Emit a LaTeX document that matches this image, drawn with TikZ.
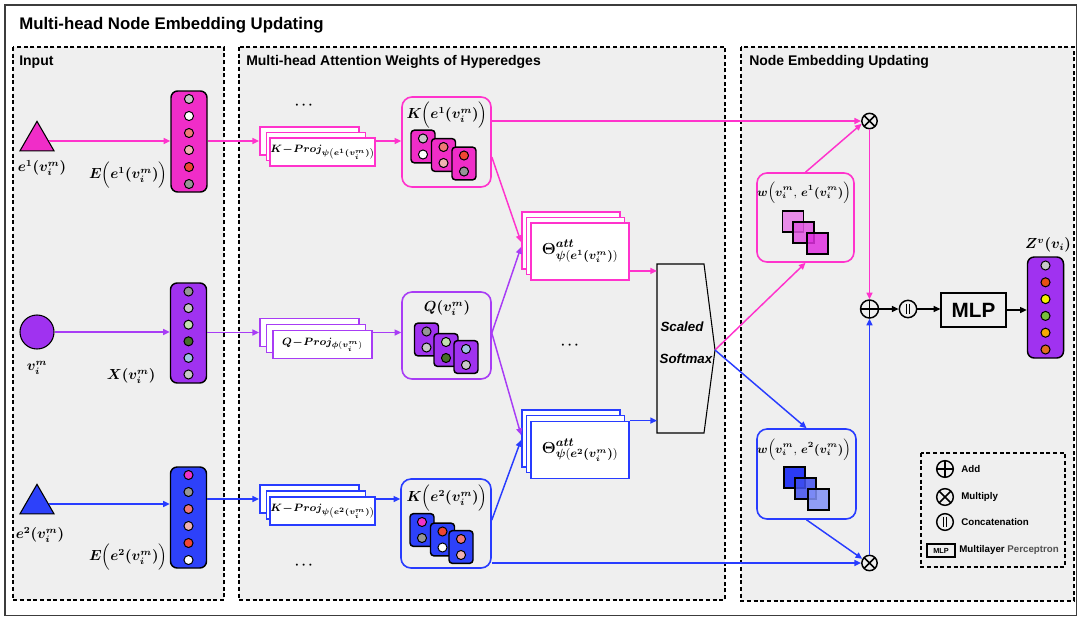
\documentclass[tikz,border=0pt]{standalone}
\usepackage{amsmath}
\usepackage{bm}
\usepackage{fontspec}
\setsansfont{Liberation Sans}
\usetikzlibrary{arrows.meta,shapes.geometric,calc}
\definecolor{pk}{RGB}{255,51,204}
\definecolor{pkf}{RGB}{240,45,200}
\definecolor{pu}{RGB}{168,60,245}
\definecolor{puf}{RGB}{160,50,240}
\definecolor{bl}{RGB}{40,60,255}
\definecolor{blf}{RGB}{45,65,250}
\definecolor{panelc}{RGB}{239,239,239}
\definecolor{frm}{RGB}{60,60,60}
\definecolor{dlg}{RGB}{200,200,200}
\definecolor{dgr}{RGB}{150,150,150}
\definecolor{dsal}{RGB}{240,120,120}
\definecolor{dlp}{RGB}{240,178,178}
\definecolor{dred}{RGB}{240,70,50}
\definecolor{dlgn}{RGB}{195,225,175}
\definecolor{ddgn}{RGB}{70,110,40}
\definecolor{dlbl}{RGB}{160,195,230}
\definecolor{dmag}{RGB}{240,50,200}
\definecolor{dor1}{RGB}{230,80,20}
\definecolor{dyel}{RGB}{245,240,0}
\definecolor{dgrn}{RGB}{120,190,60}
\definecolor{dor2}{RGB}{245,170,0}
\definecolor{dor3}{RGB}{225,110,30}
\definecolor{sqp1}{RGB}{232,140,232}
\definecolor{sqp2}{RGB}{224,85,224}
\definecolor{sqp3}{RGB}{224,48,224}
\definecolor{sqb1}{RGB}{43,59,245}
\definecolor{sqb2}{RGB}{64,80,240}
\definecolor{sqb3}{RGB}{128,144,248}
\definecolor{perc}{RGB}{80,80,80}

\tikzset{
  frame/.style={draw=frm, line width=1.2pt},
  panel/.style={draw=black, fill=panelc, dash pattern=on 3pt off 2pt, line width=0.8pt},
  ptitle/.style={anchor=west, font=\sffamily\bfseries\fontsize{10.5}{12}\selectfont, inner sep=0pt},
  vec/.style={draw=black, line width=1.1pt, rounded corners=5pt, minimum width=27pt, inner sep=0pt},
  dot/.style={circle, draw=black, line width=0.75pt, minimum size=6.8pt, inner sep=0pt},
  card/.style={draw=black, line width=1.1pt, rounded corners=2.5pt, minimum width=18pt, minimum height=24.5pt, inner sep=0pt},
  projbox/.style={draw, fill=white, line width=1.4pt, minimum width=74.25pt, minimum height=21pt, inner sep=0pt, font=\fontsize{8.1}{9}\selectfont},
  thbox/.style={draw, fill=white, line width=1.4pt, minimum width=73.5pt, minimum height=42.75pt, inner sep=0pt, font=\fontsize{12.5}{13}\selectfont},
  rbox/.style={draw, line width=1.2pt, rounded corners=7.5pt, inner sep=0pt},
  sq/.style={draw=black, line width=0.9pt, minimum size=15.75pt, inner sep=0pt},
  mlab/.style={font=\fontsize{10.5}{12}\selectfont, inner sep=1pt},
  tri/.style={regular polygon, regular polygon sides=3, draw=black, line width=0.8pt, minimum size=29.5pt, inner sep=0pt},
  arr/.style={-{Triangle[length=5pt,width=4.5pt]}, line width=1.1pt},
  barr/.style={-{Triangle[length=5pt,width=4.5pt]}, line width=0.9pt, draw=black},
  opsym/.style={circle, draw=black, line width=1.1pt, inner sep=0pt, minimum size=13pt},
  addsym/.style={opsym, path picture={\draw[line width=1.1pt] (path picture bounding box.north) -- (path picture bounding box.south) (path picture bounding box.west) -- (path picture bounding box.east);}},
  mulsym/.style={opsym, path picture={\draw[line width=1.1pt] (path picture bounding box.north east) -- (path picture bounding box.south west) (path picture bounding box.north west) -- (path picture bounding box.south east);}},
  catsym/.style={opsym, path picture={\draw[line width=0.8pt] ([xshift=-1.2pt,yshift=4pt]path picture bounding box.center) -- ([xshift=-1.2pt,yshift=-4pt]path picture bounding box.center) ([xshift=1.2pt,yshift=4pt]path picture bounding box.center) -- ([xshift=1.2pt,yshift=-4pt]path picture bounding box.center);}},
  legt/.style={anchor=west, font=\sffamily\bfseries\fontsize{7.3}{9}\selectfont, inner sep=0pt},
  smtext/.style={font=\sffamily\bfseries\itshape\fontsize{10}{12}\selectfont, inner sep=0pt},
  dotsn/.style={font=\fontsize{10}{12}\selectfont, inner sep=0pt}
}

\newcommand{\mkcard}[5]{%
  \node[card, fill=#3] (#1) at (#2) {};
  \node[dot, fill=#4] (#1a) at ($(#1.center)+(0,-8)$) {};
  \node[dot, fill=#5] (#1b) at ($(#1.center)+(0,8)$) {};
}
\newcommand{\mkvec}[6]{%
  \node[vec, fill=#4, minimum height=#3] (#1) at (#2) {};
  \foreach \c [count=\i from 0] in {#6}
    \node[dot, fill=\c] at ($(#1.center)+(0,{(\i-2.5)*#5})$) {};
}

\begin{document}
\begin{tikzpicture}[x=0.75pt,y=-0.75pt]
\useasboundingbox (0,0) rectangle (1077,619);
\fill[white] (0,0) rectangle (1077,619);
% frame and panels
\draw[frame] (5,5) rectangle (1076.5,615.5);
\node[anchor=west, font=\sffamily\bfseries\fontsize{12.6}{15}\selectfont, inner sep=0pt] (title) at (19,25) {Multi-head Node Embedding Updating};
\draw[panel] (13,47) rectangle (224,600);
\draw[panel] (239,47) rectangle (725,600);
\draw[panel] (741,47) rectangle (1074,601);
\node[ptitle] (t-in) at (19,62) {Input};
\node[ptitle] (t-att) at (246,62) {Multi-head Attention Weights of Hyperedges};
\node[ptitle] (t-upd) at (749,62) {Node Embedding Updating};

% ---------- Input panel
\node[tri, fill=pkf] (t1) at (37,141) {};
\node[mlab] (t1l) at (42,168) {$\bm{e^{1}(v_i^m)}$};
\mkvec{pv}{189,141.5}{75.75pt}{pkf}{17}{dlg,white,dsal,dlp,dred,dgr}
\node[mlab, anchor=east] (pvl) at (169,175) {$\bm{E}\Bigl(\bm{e^{1}(v_i^m)}\Bigr)$};

\node[circle, draw=black, line width=0.8pt, fill=puf, minimum size=25.5pt, inner sep=0pt] (vc) at (37,332) {};
\node[mlab] (vcl) at (37,368) {$\bm{v_i^m}$};
\mkvec{uv}{188.5,333}{75pt}{puf}{16.6}{dgr,dlg,dlgn,ddgn,dlbl,dlg}
\node[mlab, anchor=east] (uvl) at (157,376) {$\bm{X(v_i^m)}$};

\node[tri, fill=blf] (t2) at (37,504) {};
\node[mlab] (t2l) at (40,535) {$\bm{e^{2}(v_i^m)}$};
\mkvec{bv}{188.5,517.5}{75.75pt}{blf}{17}{dmag,dgr,dsal,dlp,dred,white}
\node[mlab, anchor=east] (bvl) at (169,557) {$\bm{E}\Bigl(\bm{e^{2}(v_i^m)}\Bigr)$};

\draw[arr, pk] (t1.east) -- (t1.east -| pv.west);
\draw[arr, pu] (vc.east) -- (vc.east -| uv.west);
\draw[arr, bl] (t2.east) -- (t2.east -| bv.west);

% ---------- Attention panel
\node[dotsn] (dotsA) at (305,105) {$\bm{\cdots}$};
\node[projbox, draw=pk] (kp1) at (309.5,141) {};
\node[projbox, draw=pk] (kp2) at (316,146.5) {};
\node[projbox, draw=pk] (kp3) at (322.5,152) {$\bm{K\!-\!Proj}_{\bm{\psi}\left(\bm{e^{1}(v_i^m)}\right)}$};

\node[projbox, draw=pu] (qp1) at (309.5,332.5) {};
\node[projbox, draw=pu] (qp2) at (316,338.5) {};
\node[projbox, draw=pu] (qp3) at (322.5,344.5) {$\bm{Q\!-\!Proj}_{\bm{\phi}(\bm{v_i^m})}$};

\node[projbox, draw=bl] (bp1) at (309.5,499) {};
\node[projbox, draw=bl] (bp2) at (316,505) {};
\node[projbox, draw=bl] (bp3) at (322.5,511) {$\bm{K\!-\!Proj}_{\bm{\psi}\left(\bm{e^{2}(v_i^m)}\right)}$};
\node[dotsn] (dotsB) at (305,565) {$\bm{\cdots}$};

\draw[arr, pk] (pv.east |- kp1.west) -- (kp1.west);
\draw[arr, pu] (uv.east |- qp1.west) -- (qp1.west);
\draw[arr, bl] (bv.east |- bp1.west) -- (bp1.west);

% K / Q boxes
\node[rbox, draw=pk, minimum width=66.75pt, minimum height=67.5pt] (pK) at (446.5,142) {};
\node[mlab] (pKl) at (447,115) {$\bm{K}\Bigl(\bm{e^{1}(v_i^m)}\Bigr)$};
\mkcard{pc1}{423,146.5}{pkf}{dlg}{white}
\mkcard{pc2}{443.5,155}{pkf}{dsal}{dlp}
\mkcard{pc3}{464,163.5}{pkf}{dred}{dgr}

\node[rbox, draw=pu, minimum width=66.75pt, minimum height=65.25pt] (qK) at (446.5,335.5) {};
\node[mlab] (qKl) at (447,308) {$\bm{Q(v_i^m)}$};
\mkcard{qc1}{426.5,339.5}{puf}{dgr}{dlg}
\mkcard{qc2}{446,350}{puf}{dlgn}{ddgn}
\mkcard{qc3}{466,357}{puf}{dlbl}{dlg}

\node[rbox, draw=bl, minimum width=67.5pt, minimum height=66.75pt] (bK) at (446,523.5) {};
\node[mlab] (bKl) at (447,498) {$\bm{K}\Bigl(\bm{e^{2}(v_i^m)}\Bigr)$};
\mkcard{bc1}{422,530}{blf}{dmag}{dgr}
\mkcard{bc2}{442.5,539.5}{blf}{dred}{white}
\mkcard{bc3}{461,547}{blf}{dsal}{dlp}

\draw[arr, pk] (kp3.east |- kp1.west) -- (pK.west |- kp1.west);
\draw[arr, pu] (qp3.east |- qp1.west) -- (qK.west |- qp1.west);
\draw[arr, bl] (bp3.east |- bp1.west) -- (bK.west |- bp1.west);

% Theta stacks
\node[thbox, draw=pk] (pt1) at (571,240.5) {};
\node[thbox, draw=pk] (pt2) at (575.5,246) {};
\node[thbox, draw=pk] (pt3) at (580,251.5) {$\bm{\Theta}^{\bm{att}}_{\bm{\psi}\left(\bm{e^{1}(v_i^m)}\right)}$};
\node[thbox, draw=bl] (bt1) at (571,438.5) {};
\node[thbox, draw=bl] (bt2) at (575.5,444) {};
\node[thbox, draw=bl] (bt3) at (580,450) {$\bm{\Theta}^{\bm{att}}_{\bm{\psi}\left(\bm{e^{2}(v_i^m)}\right)}$};
\node[dotsn] (dotsC) at (571,345) {$\bm{\cdots}$};

\draw[arr, pk] ($(pK.east)+(0,15)$) -- ($(pt1.west)+(0,1.5)$);
\draw[arr, pu] ($(qK.east)+(0,-2.5)$) -- ($(pt1.west)+(0,6.5)$);
\draw[arr, pu] ($(qK.east)+(0,-2.5)$) -- ($(bt1.west)+(0,-3.5)$);
\draw[arr, bl] ($(bK.east)+(0,-3.5)$) -- ($(bt1.west)+(0,1.5)$);

% Softmax
\coordinate (smNW) at (657,264);
\coordinate (smNE) at (704,264);
\coordinate (smtip) at (715,350);
\coordinate (smSE) at (704,433);
\coordinate (smSW) at (657,433);
\draw[line width=0.8pt] (smNW) -- (smNE) -- (smtip) -- (smSE) -- (smSW) -- cycle;
\node[smtext] (smA) at (682,327) {Scaled};
\node[smtext] (smB) at (686,359) {Softmax};
\draw[arr, pk] ($(pt3.south east)+(0,-10)$) coordinate (pa) -- (pa -| smNW);
\draw[arr, bl] (bt3.north east) -- (bt3.north east -| smNW);

% ---------- Update panel
\node[mulsym, minimum size=11.5pt] (m1) at (869.5,121) {};
\node[rbox, draw=pk, minimum width=72.75pt, minimum height=66.75pt] (w1) at (805.5,217.5) {};
\node[mlab, font=\fontsize{9.2}{11}\selectfont] (w1l) at (804,193) {$\bm{w}\Bigl(\bm{v_i^m},\,\bm{e^{1}(v_i^m)}\Bigr)$};
\node[sq, fill=sqp1] (s11) at (793,221.5) {};
\node[sq, fill=sqp2, fill opacity=0.85] (s12) at (803.5,232.5) {};
\node[sq, fill=sqp3, fill opacity=0.85] (s13) at (817.5,243.5) {};

\node[rbox, draw=bl, minimum width=74.25pt, minimum height=67.5pt] (w2) at (806.5,474) {};
\node[mlab, font=\fontsize{9.2}{11}\selectfont] (w2l) at (804,450) {$\bm{w}\Bigl(\bm{v_i^m},\,\bm{e^{2}(v_i^m)}\Bigr)$};
\node[sq, fill=sqb1] (s21) at (794.5,477.5) {};
\node[sq, fill=sqb2, fill opacity=0.85] (s22) at (805.5,488.5) {};
\node[sq, fill=sqb3, fill opacity=0.85] (s23) at (818.5,499.5) {};
\node[mulsym, minimum size=11.5pt] (m2) at (869.5,563) {};

\node[addsym, minimum size=13.5pt] (ad) at (869.5,309) {};
\node[catsym, minimum size=13pt] (ct) at (908,309) {};
\node[draw=black, line width=0.9pt, minimum width=48.75pt, minimum height=25.5pt, inner sep=0pt, font=\sffamily\bfseries\fontsize{15.5}{16}\selectfont] (mlp) at (973.5,310) {MLP};
\mkvec{zv}{1045.5,307.5}{75.75pt}{puf}{16.8}{dlg,dor1,dyel,dgrn,dor2,dor3}
\node[mlab] (zl) at (1048,245) {$\bm{Z^{v}(v_i)}$};

\draw[arr, pk] (smtip) -- (w1.south);
\draw[arr, bl] (smtip) -- (w2.north);
\draw[arr, pk] (pK.east |- m1.west) -- (m1.west);
\draw[arr, pk] (w1.north) -- (m1.200);
\draw[arr, pk] (m1.south) -- (ad.north);
\draw[arr, bl] (bK.east |- m2.west) -- (m2.west);
\draw[arr, bl] (w2.south) -- (m2.150);
\draw[arr, bl] (m2.north) -- (ad.south);
\draw[barr] (ad.east) -- (ct.west);
\draw[barr] (ct.east) -- (ct.east -| mlp.west);
\draw[barr] (mlp.east) -- (mlp.east -| zv.west);

% Legend
\draw[dash pattern=on 3pt off 2pt, line width=0.8pt] (921,453) rectangle (1065,567);
\node[addsym, minimum size=12.5pt] (la) at (945,469) {};
\node[legt] (lat) at (961,469) {Add};
\node[mulsym, minimum size=12.5pt] (lm) at (945,497) {};
\node[legt] (lmt) at (961,497) {Multiply};
\node[catsym, minimum size=12.5pt] (lc) at (945,522) {};
\node[legt] (lct) at (961,522) {Concatenation};
\node[draw=black, line width=0.8pt, minimum width=21pt, minimum height=9.75pt, inner sep=0pt, font=\sffamily\bfseries\fontsize{5.5}{6}\selectfont] (lmlp) at (941,550.5) {MLP};
\node[legt] (lmlpt) at (959,550) {Multilayer \textcolor{perc}{Perceptron}};
\end{tikzpicture}
\end{document}
